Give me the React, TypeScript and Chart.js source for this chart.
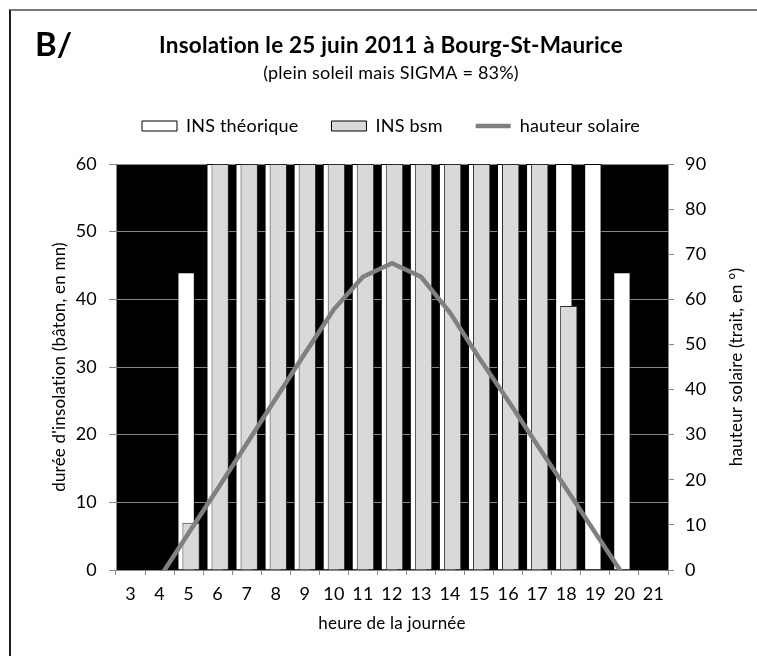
import React, { useEffect, useRef } from 'react';
import { Chart, registerables } from 'chart.js';

Chart.register(...registerables);

const hours = ['3', '4', '5', '6', '7', '8', '9', '10', '11', '12', '13', '14', '15', '16', '17', '18', '19', '20', '21'];
const insTheorique = [null, null, 44, 60, 60, 60, 60, 60, 60, 60, 60, 60, 60, 60, 60, 60, 60, 44, null];
const insBsm = [null, null, 7, 60, 60, 60, 60, 60, 60, 60, 60, 60, 60, 60, 60, 39, null, null, null];
const hauteurSolaire = [null, -1.7, 8.2, 18, 28, 38, 48, 57.8, 65, 68, 65, 57, 47, 37.5, 27.7, 18, 8.2, -1.5, null];

const rightAxisTitle = 'hauteur solaire (trait, en °)';

const FONT = 'Lato, "Open Sans", sans-serif';
const GRID = '#878787';

const noLigatures = (chart: any) => {
  const ctx = chart.ctx;
  try {
    ctx.letterSpacing = '0.2px';
    ctx.textRendering = 'optimizeSpeed';
  } catch (e) {
    /* ignore */
  }
};

const plotBackground = {
  id: 'plotBackground',
  beforeInit: noLigatures,
  beforeUpdate: noLigatures,
  beforeDraw(chart: any) {
    noLigatures(chart);
    const { ctx, chartArea: a } = chart;
    ctx.save();
    ctx.fillStyle = '#000000';
    ctx.fillRect(a.left, a.top, a.width, a.height);
    ctx.restore();
  },
  afterDraw(chart: any) {
    // right axis title, reading bottom-to-top like the left one
    const { ctx, chartArea: a } = chart;
    const s = chart.scales.y1;
    ctx.save();
    ctx.translate(s.right - 10.2, (a.top + a.bottom) / 2);
    ctx.rotate(-Math.PI / 2);
    ctx.font = `17px ${FONT}`;
    ctx.fillStyle = '#000000';
    ctx.textAlign = 'center';
    ctx.textBaseline = 'middle';
    ctx.fillText(rightAxisTitle, 0, 0);
    ctx.restore();
  },
};

// draw the white bars first, then the grey bars over them, then the line on top
const layering = {
  id: 'layering',
  beforeDatasetDraw(chart: any, args: any) {
    if (!chart.$manualDraw && args.index !== 0) return false;
    return true;
  },
  afterDatasetsDraw(chart: any) {
    const { ctx, chartArea: a } = chart;
    chart.$manualDraw = true;
    ctx.save();
    chart.getDatasetMeta(1).controller.draw();
    ctx.restore();
    ctx.save();
    ctx.beginPath();
    ctx.rect(a.left, a.top, a.width, a.height);
    ctx.clip();
    chart.getDatasetMeta(2).controller.draw();
    ctx.restore();
    chart.$manualDraw = false;
  },
};

function InsolationChart() {
  const ref = useRef<HTMLCanvasElement | null>(null);

  useEffect(() => {
    if (!ref.current) return;
    const tickFont = { family: FONT, size: 18 };
    const axisTitleFont = { family: FONT, size: 17 };
    const chart = new Chart(ref.current, {
      type: 'bar',
      data: {
        labels: hours,
        datasets: [
          {
            type: 'bar',
            label: 'INS théorique',
            data: insTheorique,
            backgroundColor: '#ffffff',
            borderColor: '#000000',
            borderWidth: 1,
            xAxisID: 'x',
            yAxisID: 'y',
            categoryPercentage: 0.344,
            barPercentage: 3.48,
          },
          {
            type: 'bar',
            label: 'INS bsm',
            data: insBsm,
            backgroundColor: '#d9d9d9',
            borderColor: '#2b2b2b',
            borderWidth: 1,
            xAxisID: 'x',
            yAxisID: 'y',
            categoryPercentage: 0.344,
            barPercentage: 3.48,
          },
          {
            type: 'line',
            label: 'hauteur solaire',
            data: hauteurSolaire,
            borderColor: '#808080',
            backgroundColor: '#808080',
            borderWidth: 4.5,
            pointRadius: 0,
            tension: 0,
            xAxisID: 'x',
            yAxisID: 'y1',
          },
        ],
      } as any,
      options: {
        responsive: false,
        animation: false,
        devicePixelRatio: 1,
        layout: { padding: { left: 35, right: 10, top: 32.5, bottom: 21.8 } },
        plugins: {
          tooltip: { enabled: false },
          title: {
            display: true,
            text: 'Insolation le 25 juin 2011 à Bourg-St-Maurice',
            color: '#000000',
            font: { family: FONT, size: 22.5, weight: 'bold' },
            padding: { top: 0, bottom: 0 },
          },
          subtitle: {
            display: true,
            text: '(plein soleil mais SIGMA = 83%)',
            color: '#000000',
            font: { family: FONT, size: 18 },
            padding: { top: 2.7, bottom: 0.2 },
          },
          legend: {
            display: true,
            position: 'top',
            labels: {
              color: '#000000',
              font: { family: FONT, size: 18 },
              usePointStyle: true,
              pointStyleWidth: 35,
              boxHeight: 10,
              padding: 33,
              generateLabels: (chart: any) =>
                chart.data.datasets.map((ds: any, i: number) => ({
                  text: ds.label,
                  datasetIndex: i,
                  fillStyle: ds.backgroundColor,
                  strokeStyle: i === 2 ? ds.borderColor : '#000000',
                  lineWidth: i === 2 ? 4.5 : 1,
                  pointStyle: i === 2 ? 'line' : 'rect',
                  hidden: false,
                  fontColor: '#000000',
                })),
            },
          },
        },
        scales: {
          x: {
            type: 'category',
            position: 'bottom',
            offset: true,
            grid: { offset: true, drawOnChartArea: false, tickLength: 5, color: GRID },
            border: { color: GRID },
            ticks: { color: '#000000', font: tickFont, padding: 8, maxRotation: 0, autoSkip: false },
            title: {
              display: true,
              text: 'heure de la journée',
              color: '#000000',
              font: axisTitleFont,
              padding: { top: 0, bottom: 0 },
            },
            afterFit: (s: any) => {
              s.height = 64.2;
            },
          },
          xSpacer: {
            type: 'category',
            position: 'top',
            display: true,
            grid: { display: false },
            border: { display: false },
            ticks: { display: false },
            afterFit: (s: any) => {
              s.height = 19;
            },
          },
          y: {
            type: 'linear',
            position: 'left',
            min: 0,
            max: 60,
            ticks: { stepSize: 10, color: '#000000', font: tickFont, padding: 12 },
            grid: { color: GRID, tickLength: 7 },
            border: { color: GRID },
            title: {
              display: true,
              text: "durée d'insolation (bâton, en mn)",
              color: '#000000',
              font: axisTitleFont,
              padding: { top: 14.8, bottom: 0 },
            },
            afterFit: (s: any) => {
              s.width = 81;
            },
          },
          y1: {
            type: 'linear',
            position: 'right',
            min: 0,
            max: 90,
            ticks: { stepSize: 10, color: '#000000', font: tickFont, padding: 11 },
            grid: { drawOnChartArea: false, tickLength: 6, color: GRID },
            border: { color: GRID },
            title: { display: false },
            afterFit: (s: any) => {
              s.width = 79;
            },
          },
        },
      } as any,
      plugins: [plotBackground, layering],
    });
    return () => chart.destroy();
  }, []);

  return (
    <div style={{ position: 'fixed', left: 0, top: 0, width: 757, height: 656, background: '#ffffff', overflow: 'hidden' }}>
      <div
        style={{
          position: 'absolute',
          left: 9,
          top: 9,
          width: 760,
          height: 660,
          borderTop: '2px solid #7a7a7a',
          borderLeft: '2px solid #1e1e1e',
        }}
      />
      <canvas ref={ref} width={757} height={656} style={{ position: 'absolute', left: 0, top: 0, width: 757, height: 656 }} />
      <div
        style={{
          position: 'absolute',
          left: 35,
          top: 27.4,
          font: `bold 33px ${FONT}`,
          lineHeight: '33px',
          color: '#000000',
        }}
      >
        B/
      </div>
    </div>
  );
}

export default function App() {
  return <InsolationChart />;
}
